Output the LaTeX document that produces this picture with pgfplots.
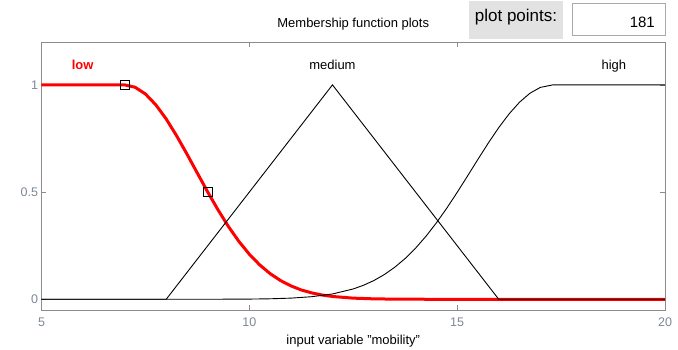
\documentclass[border=0pt]{standalone}
\usepackage{fontspec}
\setmainfont{Liberation Sans}
\usepackage{pgfplots}
\pgfplotsset{compat=1.18}
\definecolor{tickgray}{RGB}{125,135,150}
\definecolor{axgray}{RGB}{140,140,140}
\definecolor{boxgray}{RGB}{226,226,226}
\definecolor{fieldborder}{RGB}{170,170,170}
\begin{document}
\begin{tikzpicture}
\useasboundingbox (-41.5pt,-39pt) rectangle (636.5pt,310pt);
\begin{axis}[
  scale only axis, width=623.5pt, height=268pt,
  xmin=5, xmax=20, ymin=-0.05, ymax=1.2,
  xtick={5,10,15,20}, ytick={0,0.5,1},
  tick align=inside, major tick length=5pt,
  axis line style={axgray}, tick style={axgray, line width=0.6pt},
  ticklabel style={font=\fontsize{12.5}{14}\selectfont, text=tickgray},
  xticklabel style={yshift=-4pt},
  /pgf/number format/assume math mode=true,
  title={Membership function plots},
  title style={at={(axis description cs:0.5,1)}, anchor=base, yshift=9pt, font=\fontsize{13}{15}\selectfont},
  xlabel={input variable \symbol{34}mobility\symbol{34}},
  xlabel style={at={(axis description cs:0.5,0)}, anchor=base, yshift=-34pt, font=\fontsize{13}{15}\selectfont},
  clip=true,
]
% low (selected, red)
\addplot[red, line width=3pt] coordinates {
(5,1)(7,1)(7.25,0.9892)(7.5,0.9576)(7.75,0.9071)(8,0.8409)(8.25,0.7628)(8.5,0.6771)(8.75,0.5882)(9,0.5)(9.25,0.4159)(9.5,0.3385)(9.75,0.2696)(10,0.2102)(10.25,0.1603)(10.5,0.1197)(10.75,0.0874)(11,0.0625)(11.25,0.0434)(11.5,0.0299)(11.75,0.0199)(12,0.0131)(12.5,0.0053)(13,0.0020)(13.5,0.0007)(14,0.0002)(15,0)(20,0)};
% medium
\addplot[black, line width=0.9pt] coordinates {(5,0)(8,0)(12,1)(16,0)(20,0)};
% high
\addplot[black, line width=0.9pt] coordinates {
(5,0)(9,0.0001)(10,0.0009)(10.5,0.0023)(11,0.0054)(11.5,0.0120)(12,0.0248)(12.5,0.0482)(12.75,0.0656)(13,0.0878)(13.25,0.1156)(13.5,0.1496)(13.75,0.1905)(14,0.2386)(14.25,0.2940)(14.5,0.3564)(14.75,0.4250)(15,0.4985)(15.25,0.5752)(15.5,0.6529)(15.75,0.7290)(16,0.8006)(16.25,0.8649)(16.5,0.9192)(16.75,0.9610)(17,0.9882)(17.3,1)(20,1)};
% parameter handles
\addplot[only marks, mark=square, mark size=4.5pt, mark options={black, line width=0.8pt}] coordinates {(7,1)(9,0.5)};
\node[anchor=base, text=red, font=\fontsize{13}{15}\selectfont\bfseries] at (axis cs:5.99,1.074) {low};
\node[anchor=base, font=\fontsize{13}{15}\selectfont] at (axis cs:12.0,1.074) {medium};
\node[anchor=base, font=\fontsize{13}{15}\selectfont] at (axis cs:18.77,1.074) {high};
\end{axis}
% plot points control
\fill[boxgray] (427.5pt,271pt) rectangle (521.5pt,309pt);
\node[anchor=base, font=\fontsize{17}{19}\selectfont] at (474.5pt,288.5pt) {plot points:};
\draw[fill=white, draw=fieldborder, line width=0.8pt] (531.2pt,275pt) rectangle (623.5pt,307pt);
\node[anchor=base east, font=\fontsize{15}{17}\selectfont, inner sep=0pt] at (613.5pt,283pt) {181};
\end{tikzpicture}
\end{document}
